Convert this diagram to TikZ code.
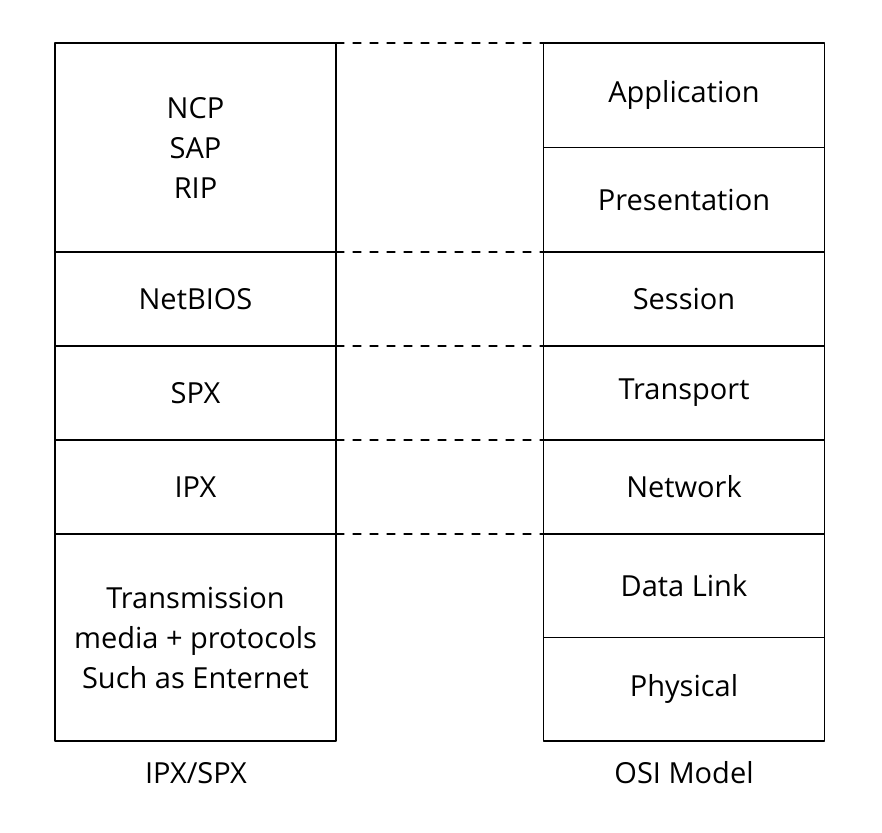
\documentclass[tikz,border=0pt]{standalone}
\usepackage{fontspec}
\setmainfont{Open Sans}

\begin{document}
\begin{tikzpicture}[
      % one unit = one pixel of the reference, y downward
      x=1pt,y=-1pt,
      line cap=round,
      line join=round,
      layer/.style={draw,line width=1.5pt,outer sep=0pt,inner sep=0pt,
        minimum width=281pt,align=center,font=\fontsize{29}{40}\selectfont},
      tag/.style={font=\fontsize{29}{40}\selectfont},
      link/.style={line width=1.3pt,dash pattern=on 8pt off 9pt},
    ]
    \useasboundingbox (0,0) rectangle (882,832);

    % IPX/SPX stack
    \node[layer,minimum height=209pt] (ncp) at (195.5,147.5) {NCP\\SAP\\RIP};
    \node[layer,minimum height=94pt]  (nb)  at (195.5,299)   {NetBIOS};
    \node[layer,minimum height=94pt]  (spx) at (195.5,393)   {SPX};
    \node[layer,minimum height=94pt]  (ipx) at (195.5,487)   {IPX};
    \node[layer,minimum height=207pt] (med) at (195.5,637.5)
      {Transmission\\media + protocols\\Such as Enternet};
    \node[tag] (left) at (196,773) {IPX/SPX};

    % OSI stack
    \node[layer,minimum height=104.5pt] (app) at (684,95.25)  {Application};
    \node[layer,minimum height=104.5pt] (pre) at (684,199.75) {Presentation};
    \node[layer,minimum height=94pt]    (ses) at (684,299)    {Session};
    \node[layer,minimum height=94pt]    (tra) at (684,393)    {Transport};
    \node[layer,minimum height=94pt]    (net) at (684,487)    {Network};
    \node[layer,minimum height=103.5pt] (dl)  at (684,585.75) {Data Link};
    \node[layer,minimum height=103.5pt] (phy) at (684,689.25) {Physical};
    \node[tag] (right) at (684,773) {OSI Model};

    % dashed correspondence lines
    \draw[link] (ncp.north east) -- (app.north west);
    \draw[link] (nb.north east)  -- (ses.north west);
    \draw[link] (spx.north east) -- (tra.north west);
    \draw[link] (ipx.north east) -- (net.north west);
    \draw[link] (med.north east) -- (dl.north west);
\end{tikzpicture}
\end{document}
